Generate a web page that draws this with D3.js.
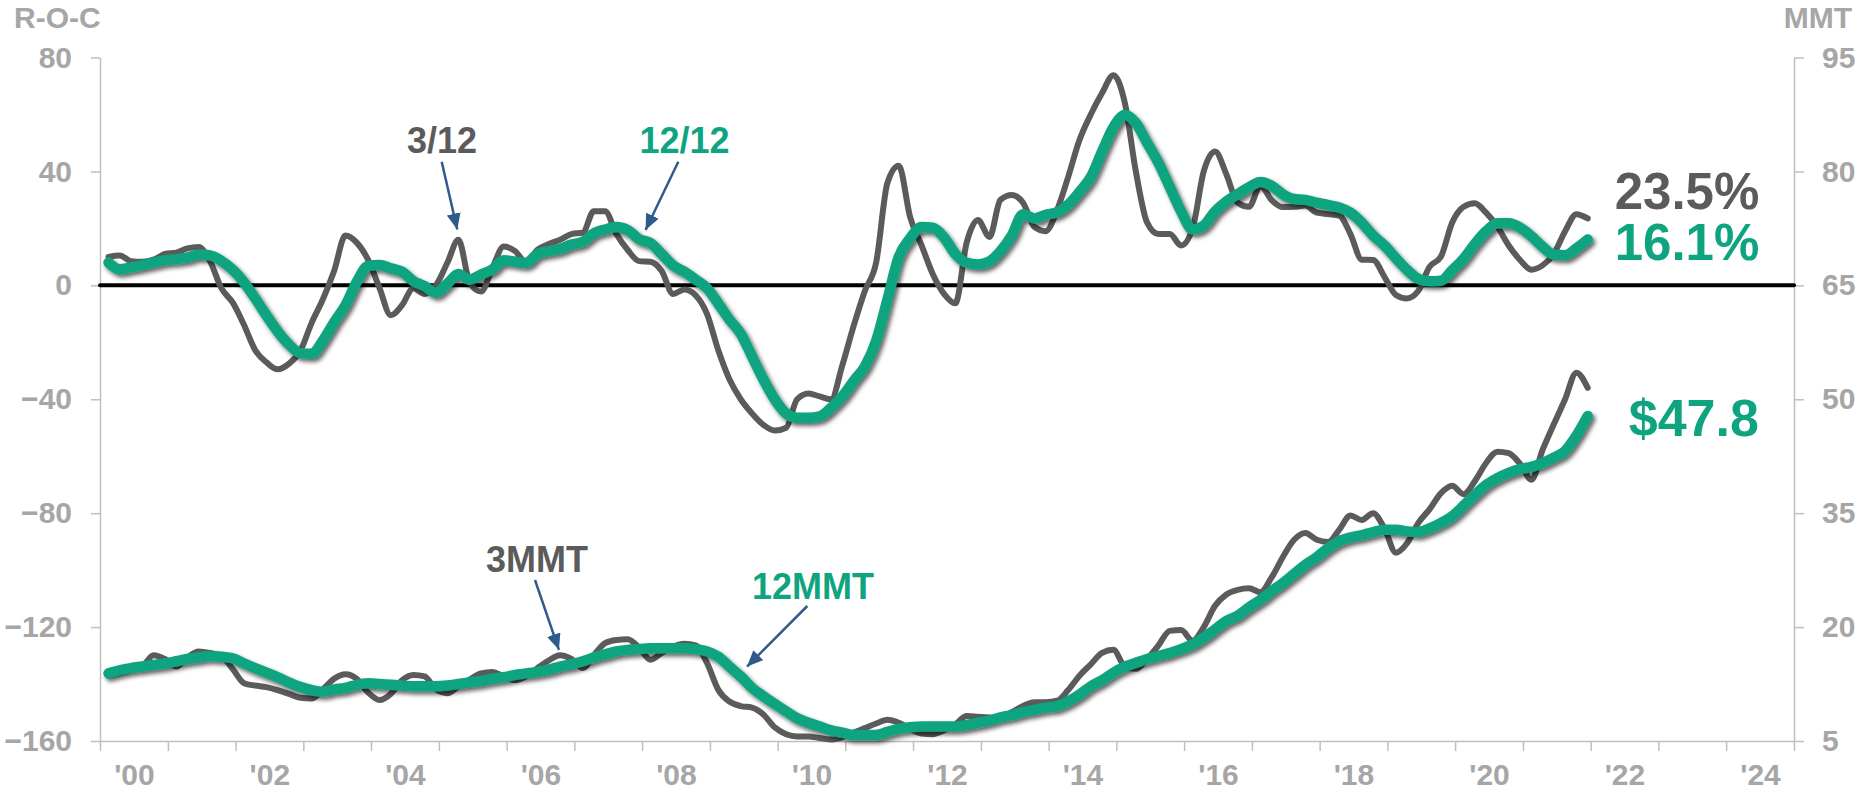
<!DOCTYPE html>
<html>
<head>
<meta charset="utf-8">
<script src="https://cdn.jsdelivr.net/npm/d3@7"></script>
<style>
  html, body { margin: 0; padding: 0; background: #ffffff; }
  svg { display: block; font-family: "Liberation Sans", Arial, sans-serif; font-weight: bold; }
</style>
</head>
<body>
<svg id="chart" width="1868" height="793"></svg>
<script>
// Bimonthly samples: first sample is Feb 2000, one value every 2 months, last is Dec 2021.
const firstMonth = 1;
const stepMonths = 2;

// 3/12 rate-of-change (%), left axis
const roc3 = [
  10, 10.5, 8.5, 8.3, 9, 11, 11.5, 13, 13.5, 8.5, -1, -6,
  -14, -22.7, -27, -29.5, -27.5, -23, -13, -5, 5, 17.5, 15, 9,
  -1, -10.5, -7, -1, -3, 0, 8, 16, 1, -2.2, 6, 13.6,
  12, 8, 12.5, 14.5, 16, 18, 18.5, 26, 26, 18, 12.4, 8.5,
  8.3, 5, -3, -1.5, -3.5, -10, -23, -33, -40, -45, -49, -51,
  -50, -40, -38, -39, -40, -28, -14, -2, 8, 36, 42, 24,
  14, 4, -3, -6.3, 15, 22.9, 17, 30, 31.7, 29, 20.5, 19,
  26.5, 38, 51, 60, 67.5, 73.8, 64, 40, 22, 18, 18, 14,
  20, 40, 47, 39, 29, 27.6, 35, 30, 27.5, 27.6, 28, 25.5,
  25, 24.5, 18, 9, 8.9, 3, -3.4, -4.6, -2, 6.5, 10, 22,
  27.6, 28.8, 25.5, 20.6, 14, 8.9, 5.5, 7, 11, 19, 25, 23.5
];

// 12/12 rate-of-change (%), left axis
const roc12 = [
  8, 5.6, 6.3, 7.1, 8, 8.8, 9.2, 9.7, 10.8, 10.5, 8.6, 5.5,
  1, -4.5, -10.5, -16.2, -20.8, -23.8, -24, -19.5, -13, -7, 1.2, 6.8,
  7.1, 6, 4.8, 1.5, -0.3, -2.6, 0.6, 4, 2, 3.8, 5.6, 8.8,
  8.3, 7.8, 11, 12, 12.8, 14.3, 15.3, 18.3, 19.6, 20.5, 19.4, 16.2,
  14.8, 11, 7, 4.8, 2, -1, -6.5, -12, -17, -25, -33, -40,
  -45, -46.5, -46.5, -46, -43, -39, -33.5, -28.5, -19.5, -5, 10, 16.5,
  20.5, 20.2, 16.8, 11, 7.9, 7.3, 8.4, 12, 17.5, 25, 23.5, 24.8,
  25.7, 28.3, 32.8, 38, 47, 55.5, 59.8, 57, 50, 43, 34.5, 26,
  19.6, 21, 26, 29.5, 32, 34.5, 36.3, 35, 32, 30.3, 30, 29,
  28.2, 27.3, 25.5, 22, 17.5, 14, 9.5, 5.5, 2.3, 1.4, 1.6, 5.3,
  9.4, 14.5, 19, 21.8, 21.8, 20.3, 17.2, 13.6, 10.8, 10.6, 13, 16.1
];

// 3-month moving total, right axis
const mmt3 = [
  13.6, 13.9, 14.3, 14.8, 16.3, 15.8, 14.8, 16, 16.8, 16.6, 16.2, 14.5,
  12.6, 12.3, 12.1, 11.7, 11.2, 10.7, 10.6, 11.8, 13.2, 13.8, 13.2, 11.4,
  10.4, 11.2, 13, 13.7, 13.5, 11.8, 11.3, 12.2, 13.1, 13.9, 14.1, 13.5,
  13, 13.5, 14.6, 15.6, 16.3, 15.8, 14.6, 16.3, 17.9, 18.3, 18.4, 17.3,
  15.7, 16.6, 17.4, 17.8, 17.6, 15.3, 11.7, 10.2, 9.6, 9.4, 8.5, 6.8,
  5.9, 5.6, 5.6, 5.4, 5.2, 5.5, 6.1, 6.7, 7.3, 7.8, 7.4, 6.6,
  6, 5.9, 6.4, 7.2, 8.3, 8.2, 8.1, 8.1, 8.8, 9.6, 10.1, 10.1,
  10.3, 11.7, 13.6, 15.1, 16.6, 17, 14.8, 14.5, 15.8, 17.6, 19.5, 19.6,
  18.2, 20, 22.8, 24.3, 24.9, 25.1, 24.6, 26.5, 29.2, 31.5, 32.4, 31.5,
  31.2, 32.8, 34.7, 34.1, 35, 33, 29.8, 31, 33.7, 35.5, 37.6, 38.6,
  37.5, 39.2, 41.6, 43.1, 42.9, 41.5, 39.4, 43.3, 46.7, 50, 53.5, 51.5
];

// 12-month moving total, right axis
const mmt12 = [
  13.9, 14.3, 14.6, 14.8, 15, 15.2, 15.5, 15.8, 16, 16.2, 16.1, 15.9,
  15.2, 14.6, 14, 13.4, 12.7, 12.1, 11.7, 11.5, 11.8, 12, 12.4, 12.6,
  12.5, 12.4, 12.3, 12.2, 12.2, 12.2, 12.3, 12.5, 12.7, 12.9, 13.2, 13.4,
  13.7, 13.9, 14.1, 14.4, 14.8, 15.1, 15.5, 16, 16.4, 16.8, 17, 17.1,
  17.2, 17.2, 17.2, 17.2, 17.1, 16.8, 16.1, 14.8, 13.5, 12, 10.9, 9.9,
  8.9, 8, 7.4, 6.9, 6.4, 6.1, 5.8, 5.8, 5.8, 6.2, 6.6, 6.8,
  6.9, 6.9, 6.9, 6.9, 7.1, 7.4, 7.7, 8.1, 8.4, 8.8, 9.1, 9.4,
  9.6, 10.2, 11.1, 12.2, 13, 14, 14.8, 15.3, 15.8, 16.2, 16.6, 17.1,
  17.7, 18.6, 19.7, 20.8, 21.5, 22.6, 23.6, 24.7, 25.8, 27, 28.2, 29.2,
  30.4, 31.3, 31.8, 32.1, 32.5, 32.8, 32.8, 32.6, 32.5, 33, 33.7, 34.6,
  36, 37.4, 38.7, 39.6, 40.3, 40.8, 41.1, 41.6, 42.3, 43.2, 45.2, 47.8
];

// Axis ticks
const rocTicks = [-160, -120, -80, -40, 0, 40, 80];
const mmtTicks = [5, 20, 35, 50, 65, 80, 95];
const labelYears = [2000, 2002, 2004, 2006, 2008, 2010, 2012, 2014, 2016, 2018, 2020, 2022, 2024];

// Colours
const GRAY = "#5b5b5b";
const GREEN = "#0ea47f";
const ARROW = "#2f5b8c";
const AXIS = "#bfbfbf";
const TICKTEXT = "#a6a6a6";

const svg = d3.select("#chart");

const plot = { left: 100, right: 1794, top: 57.5, bottom: 741 };

const x = d3.scaleTime()
  .domain([new Date(2000, 0, 1), new Date(2025, 0, 1)])
  .range([plot.left, plot.right]);
const yL = d3.scaleLinear().domain([-160, 80]).range([plot.bottom, plot.top]);
const yR = d3.scaleLinear().domain([5, 95]).range([plot.bottom, plot.top]);

const dateAt = i => new Date(2000, firstMonth + i * stepMonths, 16);
const toPoints = arr => arr.map((v, i) => ({ date: dateAt(i), value: v }));

// drop shadow used under the green lines
const defs = svg.append("defs");
const f = defs.append("filter").attr("id", "shadow")
  .attr("filterUnits", "userSpaceOnUse")
  .attr("x", 0).attr("y", 0).attr("width", 1868).attr("height", 793);
f.append("feDropShadow")
  .attr("dx", 2.5).attr("dy", 3).attr("stdDeviation", 2)
  .attr("flood-color", "#000").attr("flood-opacity", 0.6);

defs.append("marker").attr("id", "head")
  .attr("viewBox", "0 0 16 14").attr("refX", 16).attr("refY", 7)
  .attr("markerWidth", 16).attr("markerHeight", 14)
  .attr("markerUnits", "userSpaceOnUse").attr("orient", "auto")
  .append("path").attr("d", "M0,0 L16,7 L0,14 Z").attr("fill", ARROW);

// ---- axes ----
const styleAxis = g => {
  g.select(".domain").attr("stroke", AXIS).attr("stroke-width", 1.5);
  g.selectAll(".tick line").attr("stroke", AXIS).attr("stroke-width", 1.5);
  g.selectAll(".tick text").attr("fill", TICKTEXT)
    .attr("font-family", "'Liberation Sans', Arial, sans-serif")
    .attr("font-weight", "bold");
  g.attr("font-size", null).attr("font-family", null);
};

svg.append("g")
  .attr("transform", `translate(${plot.left},0)`)
  .call(d3.axisLeft(yL).tickValues(rocTicks).tickSize(9).tickSizeOuter(0).tickPadding(19))
  .call(styleAxis)
  .selectAll(".tick text").attr("font-size", 30);

svg.append("g")
  .attr("transform", `translate(${plot.right},0)`)
  .call(d3.axisRight(yR).tickValues(mmtTicks).tickSize(10).tickSizeOuter(0).tickPadding(18))
  .call(styleAxis)
  .selectAll(".tick text").attr("font-size", 30);

svg.append("g")
  .attr("transform", `translate(0,${plot.bottom})`)
  .call(d3.axisBottom(x)
    .tickValues(d3.timeYear.range(new Date(2000, 0, 1), new Date(2025, 0, 2)))
    .tickSize(10).tickSizeOuter(0).tickFormat(""))
  .call(styleAxis);

const labelAxis = svg.append("g")
  .attr("transform", `translate(0,${plot.bottom})`)
  .call(d3.axisBottom(x)
    .tickValues(labelYears.map(yr => new Date(yr, 6, 2)))
    .tickSize(0).tickPadding(23)
    .tickFormat(d3.timeFormat("'%y")))
  .call(styleAxis);
labelAxis.select(".domain").remove();
labelAxis.selectAll(".tick text").attr("font-size", 30);

// axis titles
svg.append("text").attr("x", 14).attr("y", 28)
  .attr("font-size", 30).attr("fill", TICKTEXT).text("R-O-C");
svg.append("text").attr("x", 1852).attr("y", 28).attr("text-anchor", "end")
  .attr("font-size", 30).attr("fill", TICKTEXT).text("MMT");

// zero line
svg.append("line")
  .attr("x1", plot.left).attr("x2", plot.right)
  .attr("y1", yL(0)).attr("y2", yL(0))
  .attr("stroke", "#000").attr("stroke-width", 4).attr("stroke-linecap", "round");

// ---- lines ----
const lineL = d3.line().x(d => x(d.date)).y(d => yL(d.value)).curve(d3.curveMonotoneX);
const lineR = d3.line().x(d => x(d.date)).y(d => yR(d.value)).curve(d3.curveMonotoneX);

const series = [
  { data: mmt3, line: lineR, color: GRAY, width: 6, shadow: false },
  { data: roc3, line: lineL, color: GRAY, width: 6, shadow: false },
  { data: mmt12, line: lineR, color: GREEN, width: 10.5, shadow: true },
  { data: roc12, line: lineL, color: GREEN, width: 10.5, shadow: true }
];

series.forEach(s => {
  svg.append("path")
    .datum(toPoints(s.data))
    .attr("d", s.line)
    .attr("fill", "none")
    .attr("stroke", s.color)
    .attr("stroke-width", s.width)
    .attr("stroke-linecap", "round")
    .attr("stroke-linejoin", "round")
    .attr("filter", s.shadow ? "url(#shadow)" : null);
});

// ---- latest values at the right end ----
const lastDate = dateAt(roc3.length - 1);
const endX = x(lastDate) + 27;
svg.append("text").attr("x", endX).attr("y", 209)
  .attr("font-size", 51).attr("fill", GRAY)
  .text(`${roc3[roc3.length - 1]}%`);
svg.append("text").attr("x", endX).attr("y", 260)
  .attr("font-size", 51).attr("fill", GREEN)
  .text(`${roc12[roc12.length - 1]}%`);
svg.append("text").attr("x", endX + 14).attr("y", 436)
  .attr("font-size", 52).attr("fill", GREEN)
  .text(`$${mmt12[mmt12.length - 1].toFixed(1)}`);

// ---- series call-outs ----
const callouts = [
  { text: "3/12", color: GRAY, tx: 442, ty: 153, from: [441.7, 161.7], tip: { date: new Date(2005, 3, 10), value: 19.6, scale: yL } },
  { text: "12/12", color: GREEN, tx: 684.5, ty: 153, from: [678.3, 161.7], tip: { date: new Date(2008, 0, 20), value: 19.4, scale: yL } },
  { text: "3MMT", color: GRAY, tx: 537, ty: 571.5, from: [535, 580], tip: { date: new Date(2006, 9, 10), value: 17.0, scale: yR } },
  { text: "12MMT", color: GREEN, tx: 813, ty: 599, from: [807.3, 606], tip: { date: new Date(2009, 6, 20), value: 14.8, scale: yR } }
];

callouts.forEach(c => {
  svg.append("text")
    .attr("x", c.tx).attr("y", c.ty).attr("text-anchor", "middle")
    .attr("font-size", 36).attr("fill", c.color).text(c.text);
  svg.append("line")
    .attr("x1", c.from[0]).attr("y1", c.from[1])
    .attr("x2", x(c.tip.date)).attr("y2", c.tip.scale(c.tip.value))
    .attr("stroke", ARROW).attr("stroke-width", 2.5)
    .attr("marker-end", "url(#head)");
});
</script>
</body>
</html>
